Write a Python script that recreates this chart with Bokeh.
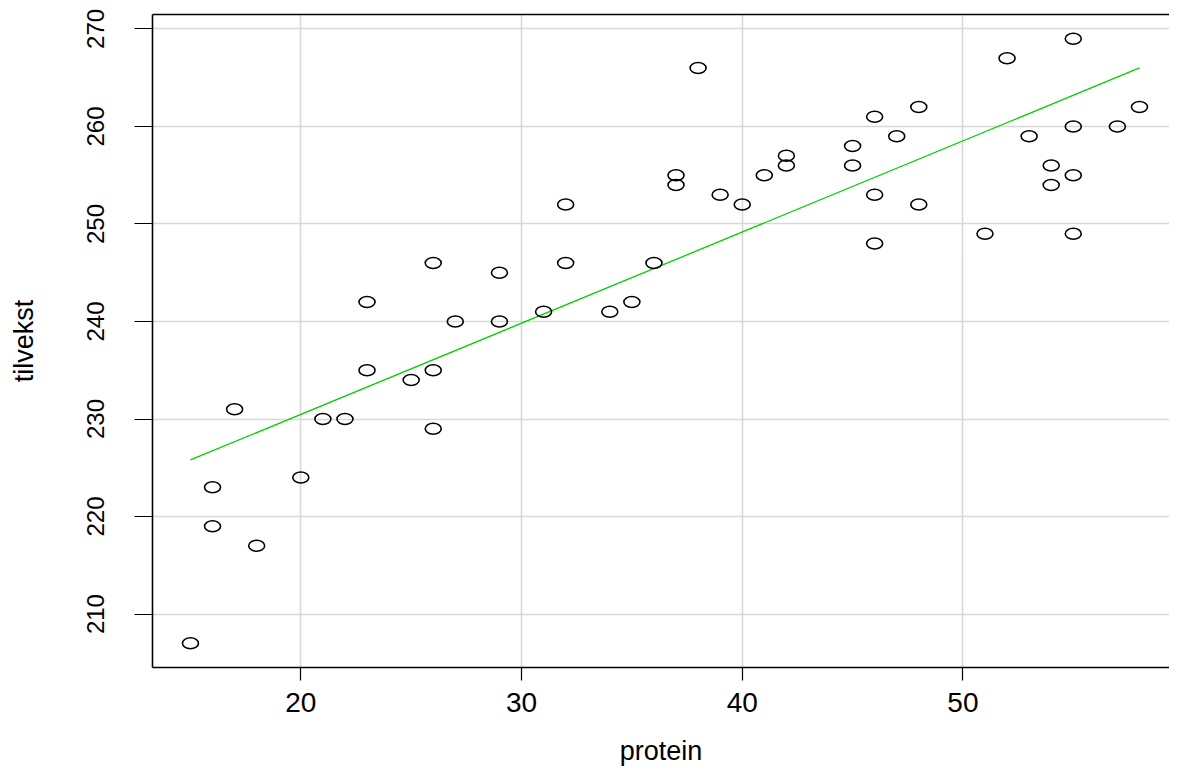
from bokeh.plotting import figure
from bokeh.models import Range1d, FixedTicker, LinearAxis
from bokeh.embed import file_html
from bokeh.resources import INLINE

# data
protein = [15, 16, 16, 17, 18, 20, 21, 22, 23, 23, 25, 26, 26, 26, 27, 29, 29, 31,
           32, 32, 34, 35, 36, 37, 37, 38, 39, 40, 41, 42, 42, 45, 45, 46, 46, 46,
           47, 48, 48, 51, 52, 53, 54, 54, 55, 55, 55, 55, 57, 58]
tilvekst = [207, 219, 223, 231, 217, 224, 230, 230, 242, 235, 234, 246, 235, 229, 240, 245, 240, 241,
            252, 246, 241, 242, 246, 255, 254, 266, 253, 252, 255, 257, 256, 258, 256, 261, 253, 248,
            259, 262, 252, 249, 267, 259, 256, 254, 269, 260, 255, 249, 260, 262]
fit_x = [15, 58]
fit_y = [225.8, 266.0]
x_ticks = [20, 30, 40, 50]
y_ticks = [210, 220, 230, 240, 250, 260, 270]

FONT = "Liberation Sans"

p = figure(width=1169, height=768, output_backend="svg", toolbar_location=None,
           x_range=Range1d(13.28, 59.36), y_range=Range1d(204.52, 271.48),
           min_border_left=152, min_border_top=14, min_border_bottom=100, min_border_right=0,
           x_axis_label="protein", y_axis_label="tilvekst")
p.outline_line_color = None
p.background_fill_color = "white"
p.border_fill_color = "white"

# grid
p.xgrid.ticker = FixedTicker(ticks=x_ticks)
p.ygrid.ticker = FixedTicker(ticks=y_ticks)
for g in (p.xgrid, p.ygrid):
    g.grid_line_color = "#D8D8D8"
    g.grid_line_width = 1.6

# axes
xa = p.xaxis[0]
ya = p.yaxis[0]
xa.ticker = FixedTicker(ticks=x_ticks)
ya.ticker = FixedTicker(ticks=y_ticks)
for a in (xa, ya):
    a.axis_line_color = "black"
    a.axis_line_width = 1.6
    a.major_tick_line_color = "black"
    a.major_tick_line_width = 1.2
    a.major_tick_in = 0
    a.minor_tick_line_color = None
    a.major_label_text_font = FONT
    a.major_label_text_color = "black"
    a.axis_label_text_font = FONT
    a.axis_label_text_font_style = "normal"
    a.axis_label_text_color = "black"
xa.major_tick_out = 13
xa.major_label_text_font_size = "28px"
xa.major_label_standoff = 12
xa.axis_label_text_font_size = "27px"
xa.axis_label_standoff = 21
ya.major_tick_out = 18
ya.major_label_text_font_size = "24px"
ya.major_label_orientation = "vertical"
ya.major_label_standoff = 30
ya.axis_label_text_font_size = "27px"
ya.axis_label_standoff = 46

# top border of the box
top = LinearAxis(ticker=FixedTicker(ticks=[]), axis_line_color="black", axis_line_width=1.6,
                 major_tick_out=0, major_tick_in=0, minor_tick_out=0, minor_tick_in=0,
                 major_label_standoff=0, major_label_text_font_size="0px")
p.add_layout(top, "above")

# regression line
p.line(fit_x, fit_y, line_color="#00D000", line_width=1.3)

# open circles
p.ellipse(protein, tilvekst, width=16, height=11, width_units="screen", height_units="screen",
          fill_color=None, line_color="black", line_width=1.6)

open("out.html", "w").write(file_html(p, INLINE))
